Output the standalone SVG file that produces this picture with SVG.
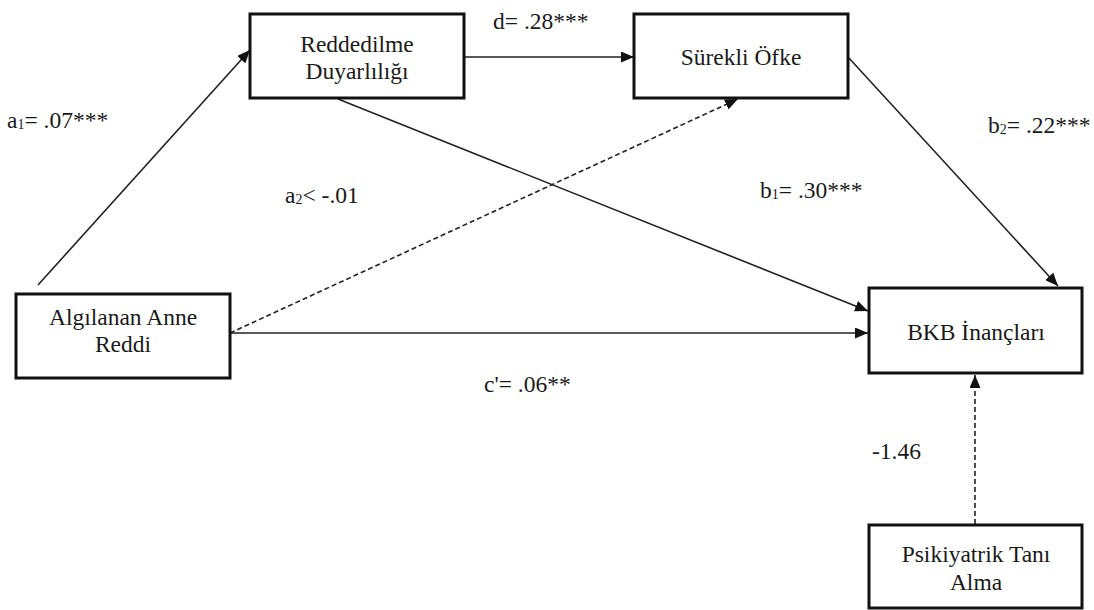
<svg xmlns="http://www.w3.org/2000/svg" width="1094" height="610" viewBox="0 0 1094 610">
<style>
.box{fill:#fff;stroke:#111;stroke-width:3}
.t{font-family:"Liberation Serif","Times New Roman","DejaVu Serif",serif;font-size:23.5px;fill:#1a1a1a}
.c{text-anchor:middle}
.ln{stroke:#222;stroke-width:1.6;fill:none}
.ds{stroke-dasharray:5 3}
.sub{font-size:14px}
</style>
<defs>
<marker id="ah" markerUnits="userSpaceOnUse" markerWidth="13" markerHeight="11" refX="13" refY="5.5" orient="auto">
<path d="M0,0 L13,5.5 L0,11 z" fill="#111"/>
</marker>
</defs>
<rect width="1094" height="610" fill="#fff"/>
<g id="connectors">
<line class="ln" x1="38" y1="285" x2="250" y2="50" marker-end="url(#ah)"/>
<line class="ln" x1="464" y1="57" x2="634" y2="57" marker-end="url(#ah)"/>
<line class="ln" x1="338" y1="99" x2="868" y2="311" marker-end="url(#ah)"/>
<line class="ln" x1="848" y1="57" x2="1058" y2="286" marker-end="url(#ah)"/>
<line class="ln" x1="230" y1="333" x2="868" y2="333" marker-end="url(#ah)"/>
<line class="ln ds" x1="230" y1="333" x2="738" y2="99" marker-end="url(#ah)"/>
<line class="ln ds" x1="975" y1="524" x2="975" y2="375" marker-end="url(#ah)"/>
</g>
<g id="node-reddedilme">
<rect class="box" x="250" y="14" width="214" height="84"/>
<text class="t c" x="357" y="52">Reddedilme</text>
<text class="t c" x="357" y="79">Duyarlılığı</text>
</g>
<g id="node-surekli">
<rect class="box" x="634" y="14" width="214" height="84"/>
<text class="t c" x="741" y="65">Sürekli Öfke</text>
</g>
<g id="node-algilanan">
<rect class="box" x="16" y="294" width="214" height="84"/>
<text class="t c" x="123" y="325">Algılanan Anne</text>
<text class="t c" x="123" y="352">Reddi</text>
</g>
<g id="node-bkb">
<rect class="box" x="869" y="288" width="213" height="85"/>
<text class="t c" x="976" y="340">BKB İnançları</text>
</g>
<g id="node-psikiyatrik">
<rect class="box" x="869" y="525" width="213" height="83"/>
<text class="t c" x="976" y="562">Psikiyatrik Tanı</text>
<text class="t c" x="976" y="590">Alma</text>
</g>
<g id="labels">
<text class="t" x="7" y="128">a<tspan class="sub" dy="1">1</tspan><tspan dy="-1">= .07***</tspan></text>
<text class="t" x="493" y="29">d= .28***</text>
<text class="t" x="285" y="203">a<tspan class="sub" dy="1">2</tspan><tspan dy="-1">&lt; -.01</tspan></text>
<text class="t" x="760" y="198">b<tspan class="sub" dy="1">1</tspan><tspan dy="-1">= .30***</tspan></text>
<text class="t" x="988" y="133">b<tspan class="sub" dy="1">2</tspan><tspan dy="-1">= .22***</tspan></text>
<text class="t" x="484" y="392">c'= .06**</text>
<text class="t" x="872" y="459">-1.46</text>
</g>
</svg>
